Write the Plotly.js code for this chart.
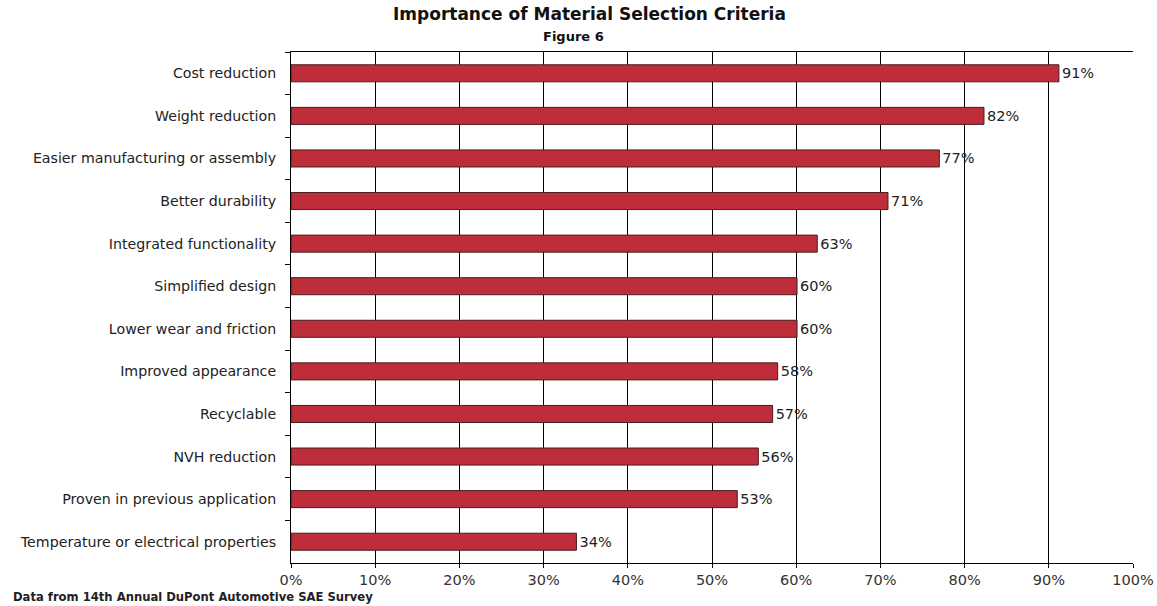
<!DOCTYPE html>
<html>
<head>
<meta charset="utf-8">
<script src="https://cdn.plot.ly/plotly-3.0.1.min.js"></script>
<style>html,body{margin:0;padding:0;background:#fff;}#chart{width:1157px;height:606px;}</style>
</head>
<body>
<div id="chart"></div>
<script>
const categories = [
  "Cost reduction",
  "Weight reduction",
  "Easier manufacturing or assembly",
  "Better durability",
  "Integrated functionality",
  "Simplified design",
  "Lower wear and friction",
  "Improved appearance",
  "Recyclable",
  "NVH reduction",
  "Proven in previous application",
  "Temperature or electrical properties"
];
const values = [91.2, 82.3, 77, 70.9, 62.5, 60.1, 60.1, 57.8, 57.2, 55.5, 53, 33.9];
const valueLabels = ["91%", "82%", "77%", "71%", "63%", "60%", "60%", "58%", "57%", "56%", "53%", "34%"];
const xTickVals = [0, 10, 20, 30, 40, 50, 60, 70, 80, 90, 100];
const xTickText = ["0%", "10%", "20%", "30%", "40%", "50%", "60%", "70%", "80%", "90%", "100%"];

const trace = {
  type: "bar",
  orientation: "h",
  y: categories,
  x: values,
  text: valueLabels,
  textposition: "outside",
  cliponaxis: false,
  textfont: {family: "DejaVu Sans", size: 14.5, color: "#222"},
  width: 0.4,
  marker: {color: "#BE2D3A", line: {color: "#4a1c1f", width: 1}},
  hoverinfo: "skip"
};

const layout = {
  width: 1157, height: 606,
  margin: {l: 291, r: 24, t: 52, b: 43},
  paper_bgcolor: "#fff", plot_bgcolor: "#fff",
  showlegend: false,
  bargap: 0.6,
  xaxis: {
    range: [0, 100],
    tickvals: xTickVals, ticktext: xTickText,
    showgrid: true, gridcolor: "#000", gridwidth: 1,
    showline: true, linecolor: "#000", linewidth: 1, mirror: true,
    ticks: "outside", ticklen: 4, tickcolor: "#000",
    tickfont: {family: "DejaVu Sans", size: 14.5, color: "#333"},
    zeroline: false, fixedrange: true
  },
  yaxis: {
    type: "category",
    autorange: "reversed",
    showgrid: false,
    showline: true, linecolor: "#000", linewidth: 1,
    ticks: "outside", ticklen: 5, tickcolor: "#000", tickson: "boundaries",
    ticklabelstandoff: 11,
    tickfont: {family: "DejaVu Sans", size: 14.2, color: "#222"},
    fixedrange: true
  },
  annotations: [
    {text: "<b>Importance of Material Selection Criteria</b>", xref: "paper", yref: "paper",
     x: 0.355, y: 1.0734, xanchor: "center", yanchor: "middle", showarrow: false,
     font: {family: "DejaVu Sans", size: 17, color: "#111"}},
    {text: "<b>Figure 6</b>", xref: "paper", yref: "paper",
     x: 0.3355, y: 1.0294, xanchor: "center", yanchor: "middle", showarrow: false,
     font: {family: "DejaVu Sans", size: 13, color: "#111"}},
    {text: "<b>Data from 14th Annual DuPont Automotive SAE Survey</b>", xref: "paper", yref: "paper",
     x: -0.333, y: -0.066, xanchor: "left", yanchor: "middle", showarrow: false,
     font: {family: "DejaVu Sans", size: 11.6, color: "#222"}}
  ]
};

Plotly.newPlot("chart", [trace], layout, {displayModeBar: false, staticPlot: true});
</script>
</body>
</html>
